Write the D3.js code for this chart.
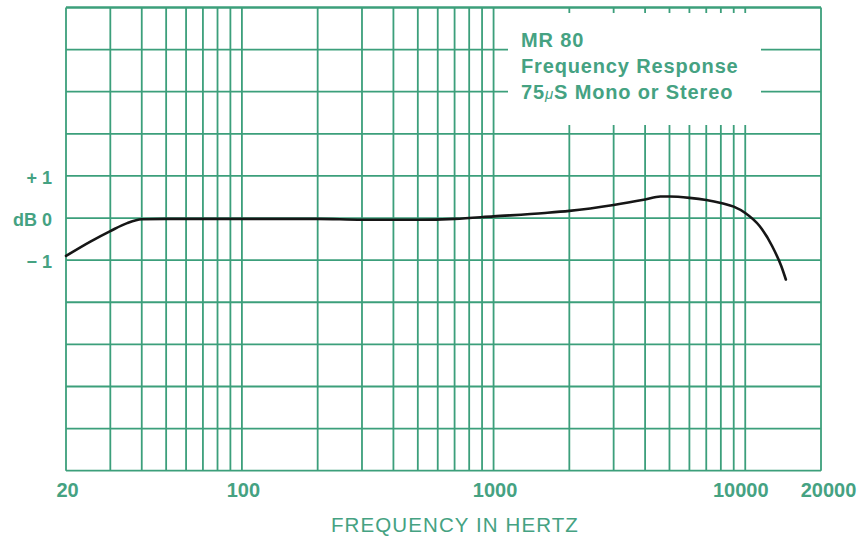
<!DOCTYPE html>
<html>
<head>
<meta charset="utf-8">
<script src="https://cdn.jsdelivr.net/npm/d3@7"></script>
<style>
  html, body { margin: 0; padding: 0; background: #ffffff; }
  svg { display: block; }
</style>
</head>
<body>
<svg id="chart" width="863" height="541"></svg>
<script>
// ---- data ----
const freqs = [20, 25, 30, 35, 40, 50, 70, 100, 200, 300, 500, 700, 1000, 1600, 2000, 3000, 4000, 4600, 5000, 6000, 7000, 8000, 9000, 10000, 11400, 12800, 13900, 14500];
const gains = [-0.9, -0.56, -0.31, -0.12, -0.03, -0.02, -0.02, -0.02, -0.02, -0.04, -0.04, -0.02, 0.04, 0.12, 0.17, 0.31, 0.44, 0.51, 0.51, 0.48, 0.43, 0.36, 0.27, 0.12, -0.19, -0.67, -1.14, -1.46];
const xTickValues = [20, 100, 1000, 10000, 20000];
const xTickLabels = ["20", "100", "1000", "10000", "20000"];
const yTickValues = [1, 0, -1];
const yTickLabels = ["+ 1", "dB 0", "\u2212 1"];
const titleLines = ["MR 80", "Frequency Response"];
const xAxisTitle = "FREQUENCY IN HERTZ";

// ---- styles ----
const gridColor = "#3c9f7b";
const textColor = "#45a282";
const svg = d3.select("#chart");

const x = d3.scaleLog().domain([20, 20000]).range([66, 821]);
const y = d3.scaleLinear().domain([-6, 5]).range([470.7, 7.5]);

// vertical grid lines (log decades, none between 10k and 20k except border)
const vGrid = x.ticks().filter(v => v <= 10000 || v === 20000);
svg.append("g").selectAll("line").data(vGrid).join("line")
  .attr("x1", d => x(d)).attr("x2", d => x(d))
  .attr("y1", y(5)).attr("y2", y(-6))
  .attr("stroke", gridColor).attr("stroke-width", 1.8);

// horizontal grid lines
const hGrid = d3.range(-6, 6);
svg.append("g").selectAll("line").data(hGrid).join("line")
  .attr("x1", x(20)).attr("x2", x(20000))
  .attr("y1", d => y(d)).attr("y2", d => y(d))
  .attr("stroke", gridColor).attr("stroke-width", 1.8);

// white title box covering the grid
svg.append("rect")
  .attr("x", 508).attr("y", 13).attr("width", 253).attr("height", 112)
  .attr("fill", "#ffffff");

// top border again (over the box)
svg.append("line")
  .attr("x1", x(20)).attr("x2", x(20000))
  .attr("y1", y(5)).attr("y2", y(5))
  .attr("stroke", gridColor).attr("stroke-width", 1.8);

// title
const title = svg.append("g")
  .attr("font-family", "Liberation Sans, Arial, sans-serif")
  .attr("font-weight", "bold")
  .attr("font-size", 20)
  .attr("letter-spacing", "0.85px")
  .attr("fill", textColor);
title.append("text").attr("x", 521).attr("y", 46.5).text(titleLines[0]);
title.append("text").attr("x", 521).attr("y", 72.5).text(titleLines[1]);
const t3 = title.append("text").attr("x", 521).attr("y", 99);
t3.append("tspan").text("75");
t3.append("tspan").attr("font-size", 15).attr("font-style", "italic").attr("font-weight", "normal").text("\u03BC");
t3.append("tspan").text("S Mono or Stereo");

// response curve
const line = d3.line()
  .x((d, i) => x(freqs[i]))
  .y((d, i) => y(gains[i]))
  .curve(d3.curveMonotoneX);
svg.append("path")
  .datum(gains)
  .attr("d", line)
  .attr("fill", "none")
  .attr("stroke", "#161616")
  .attr("stroke-width", 2.6)
  .attr("stroke-linecap", "round")
  .attr("stroke-linejoin", "round");

// x axis labels
const xAxis = d3.axisBottom(x)
  .tickValues(xTickValues)
  .tickFormat((d, i) => xTickLabels[i])
  .tickSize(0).tickPadding(12);
const gx = svg.append("g").attr("transform", `translate(0,${y(-6)})`).call(xAxis);
gx.select(".domain").remove();
gx.selectAll("text")
  .attr("font-family", "Liberation Sans, Arial, sans-serif")
  .attr("font-weight", "bold")
  .attr("font-size", 20)
  .attr("fill", textColor)
  .attr("dx", d => d === 10000 ? -5 : (d === 20000 ? 7 : 1));

// y axis labels
const yAxis = d3.axisLeft(y)
  .tickValues(yTickValues)
  .tickFormat((d, i) => yTickLabels[i])
  .tickSize(0).tickPadding(14);
const gy = svg.append("g").attr("transform", `translate(${x(20)},0)`).call(yAxis);
gy.select(".domain").remove();
gy.selectAll("text")
  .attr("font-family", "Liberation Sans, Arial, sans-serif")
  .attr("font-weight", "bold")
  .attr("font-size", 18)
  .attr("fill", textColor)
  .attr("dy", "0.4em");

// x axis title
svg.append("text")
  .attr("x", 455).attr("y", 532)
  .attr("text-anchor", "middle")
  .attr("font-family", "Liberation Sans, Arial, sans-serif")
  .attr("font-size", 20.5)
  .attr("letter-spacing", "1.1px")
  .attr("fill", textColor)
  .text(xAxisTitle);
</script>
</body>
</html>
